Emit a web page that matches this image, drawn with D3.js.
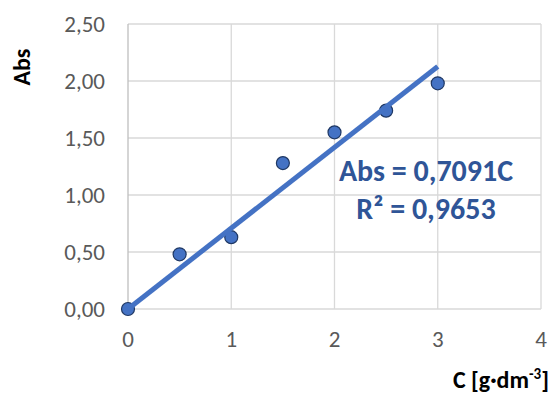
<!DOCTYPE html>
<html>
<head>
<meta charset="utf-8">
<script src="https://cdn.jsdelivr.net/npm/d3@7"></script>
<style>
  body { margin: 0; background: #fff; }
  text { font-family: Carlito, Calibri, Lato, sans-serif; }
</style>
</head>
<body>
<div class="chart"></div>
<script>
// measured points
const conc = [0, 0.5, 1, 1.5, 2, 2.5, 3]
const absValues = [0, 0.48, 0.63, 1.28, 1.55, 1.74, 1.98]

// trendline from Excel
const slope = 0.7091
const trendRange = [0, 3]
const eqLines = ['Abs = 0,7091C', 'R² = 0,9653']

const xTicks = [0, 1, 2, 3, 4]
const yTicks = [0, 0.5, 1, 1.5, 2, 2.5]

const width = 555
const height = 396
const margin = { top: 24, right: 14, bottom: 87, left: 128 }

const svg = d3.select('.chart')
  .append('svg')
  .attr('width', width)
  .attr('height', height)

const x = d3.scaleLinear().domain([0, 4]).range([margin.left, width - margin.right])
const y = d3.scaleLinear().domain([0, 2.5]).range([height - margin.bottom, margin.top])

const fmt = (d) => d3.format('.2f')(d).replace('.', ',')

// gridlines
svg.append('g')
  .selectAll('line')
  .data(yTicks)
  .enter()
  .append('line')
  .attr('x1', x(0))
  .attr('x2', x(4))
  .attr('y1', (d) => y(d))
  .attr('y2', (d) => y(d))
  .attr('stroke', '#d9d9d9')
  .attr('stroke-width', 1.3)

svg.append('g')
  .selectAll('line')
  .data(xTicks)
  .enter()
  .append('line')
  .attr('x1', (d) => x(d))
  .attr('x2', (d) => x(d))
  .attr('y1', y(0))
  .attr('y2', y(2.5))
  .attr('stroke', (d) => d === 0 ? '#bfbfbf' : '#d9d9d9')
  .attr('stroke-width', 1.3)

// tick labels
svg.append('g')
  .selectAll('text')
  .data(yTicks)
  .enter()
  .append('text')
  .attr('x', margin.left - 23)
  .attr('y', (d) => y(d) + 8)
  .attr('text-anchor', 'end')
  .attr('font-size', 23)
  .attr('fill', '#595959')
  .text(fmt)

svg.append('g')
  .selectAll('text')
  .data(xTicks)
  .enter()
  .append('text')
  .attr('x', (d) => x(d))
  .attr('y', y(0) + 38)
  .attr('text-anchor', 'middle')
  .attr('font-size', 23)
  .attr('fill', '#595959')
  .text((d) => d)

// axis titles
svg.append('text')
  .attr('transform', `translate(30, 67) rotate(-90)`)
  .attr('text-anchor', 'middle')
  .attr('font-size', 24)
  .attr('font-weight', 'bold')
  .attr('fill', '#000')
  .text('Abs')

const xTitle = svg.append('text')
  .attr('x', 549)
  .attr('y', 388)
  .attr('text-anchor', 'end')
  .attr('font-size', 24)
  .attr('font-weight', 'bold')
  .attr('fill', '#000')
xTitle.append('tspan').text('C [g·dm')
xTitle.append('tspan').attr('dy', -9).attr('font-size', 15).text('-3')
xTitle.append('tspan').attr('dy', 9).text(']')

// points
svg.append('g')
  .selectAll('circle')
  .data(conc)
  .enter()
  .append('circle')
  .attr('cx', (d) => x(d))
  .attr('cy', (d, i) => y(absValues[i]))
  .attr('r', 6.5)
  .attr('fill', '#4472c4')
  .attr('stroke', '#1f3864')
  .attr('stroke-width', 1.2)

// trendline on top
const trend = trendRange.map((c) => [c, slope * c])
svg.append('path')
  .datum(trend)
  .attr('fill', 'none')
  .attr('stroke', '#4472c4')
  .attr('stroke-width', 5)
  .attr('d', d3.line().x((d) => x(d[0])).y((d) => y(d[1])))

// equation label
svg.append('g')
  .selectAll('text')
  .data(eqLines)
  .enter()
  .append('text')
  .attr('x', 426)
  .attr('y', (d, i) => 181 + i * 37.5)
  .attr('text-anchor', 'middle')
  .attr('font-size', 30)
  .attr('font-weight', 'bold')
  .attr('fill', '#2f5597')
  .text((d) => d)
</script>
</body>
</html>
